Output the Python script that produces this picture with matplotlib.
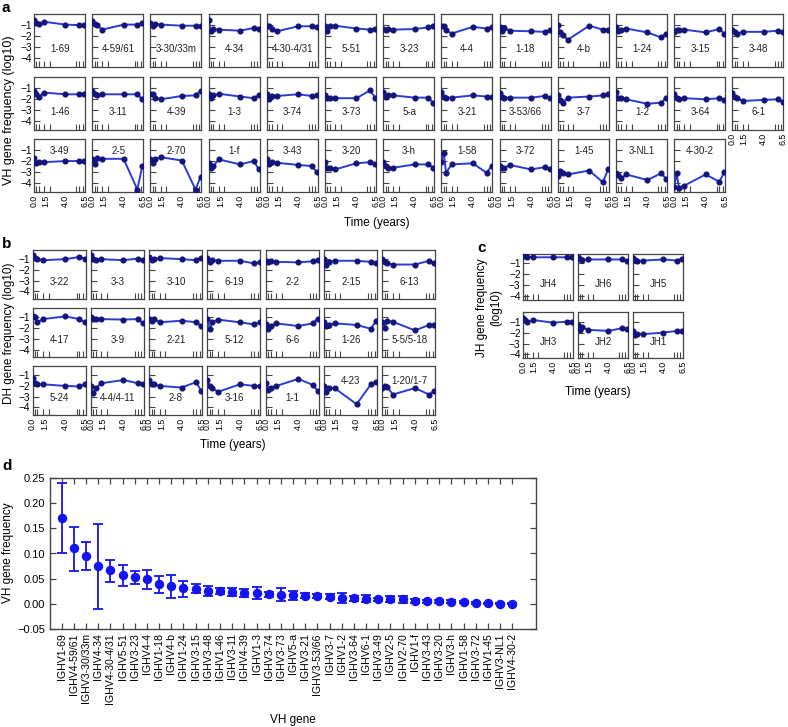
import matplotlib
matplotlib.use("Agg")
import matplotlib.pyplot as plt

plt.rcParams['font.family'] = ['Liberation Sans', 'DejaVu Sans']

W, H = 788, 727

# sampling times (years) and tick marks of the small panels
times = [0.0, 0.3, 0.6, 1.3, 4.0, 5.75, 6.4]
time_ticks = [0.3, 0.6, 1.3, 2.0, 4.0, 5.4, 5.75, 6.2]
time_labels = [0.0, 1.5, 4.0, 6.5]

# panel a: VH genes, log10 frequency per time point
vh_genes = ['1-69', '4-59/61', '3-30/33m', '4-34', '4-30-4/31', '5-51', '3-23',
            '4-4', '1-18', '4-b', '1-24', '3-15', '3-48',
            '1-46', '3-11', '4-39', '1-3', '3-74', '3-73', '5-a', '3-21',
            '3-53/66', '3-7', '1-2', '3-64', '6-1',
            '3-49', '2-5', '2-70', '1-f', '3-43', '3-20', '3-h', '1-58', '3-72',
            '1-45', '3-NL1', '4-30-2']
vh_log_freq = [
    [-0.55, -0.85, -0.95, -0.75, -1.0, -1.05, -1.05],
    [-0.7, -0.95, -1.05, -1.45, -1.0, -1.0, -0.9],
    [-0.85, -1.15, -0.95, -1.0, -1.1, -1.1, -1.15],
    [-0.55, -1.6, -1.4, -1.45, -1.55, -1.3, -1.35],
    [-1.1, -1.15, -1.4, -1.6, -1.15, -1.15, -1.25],
    [-1.1, -1.6, -1.15, -1.1, -1.35, -1.45, -1.35],
    [-1.4, -1.45, -1.4, -1.45, -1.4, -1.25, -1.1],
    [-1.1, -1.15, -1.5, -1.8, -1.2, -1.35, -1.2],
    [-1.2, -1.6, -1.3, -1.55, -1.6, -1.65, -1.5],
    [-1.05, -1.65, -1.95, -2.35, -1.1, -1.45, -1.45],
    [-1.2, -1.55, -1.45, -1.35, -1.7, -2.15, -1.8],
    [-1.7, -1.5, -1.45, -1.45, -1.7, -1.4, -1.8],
    [-1.45, -1.7, -1.8, -1.65, -1.65, -1.55, -1.65],
    [-1.3, -1.6, -1.8, -1.45, -1.6, -1.6, -1.6],
    [-1.3, -1.6, -1.7, -1.6, -1.6, -1.6, -2.05],
    [-1.55, -1.6, -1.9, -2.05, -1.75, -1.7, -1.3],
    [-1.6, -1.95, -1.7, -1.55, -1.8, -1.95, -1.7],
    [-1.6, -2.05, -1.75, -1.75, -1.6, -1.75, -1.7],
    [-1.7, -1.95, -1.95, -1.95, -1.95, -1.25, -1.9],
    [-1.4, -1.8, -1.7, -1.7, -1.9, -1.9, -2.4],
    [-1.4, -1.8, -1.9, -1.9, -1.7, -1.8, -1.8],
    [-1.45, -1.8, -1.9, -1.9, -1.9, -1.75, -1.9],
    [-1.7, -2.1, -2.4, -1.9, -1.8, -1.7, -1.6],
    [-1.4, -1.9, -1.95, -2.05, -2.45, -2.35, -1.9],
    [-1.55, -1.95, -2.05, -1.95, -2.05, -1.95, -2.1],
    [-1.45, -1.8, -1.9, -2.2, -2.1, -2.05, -2.25],
    [-1.75, -2.15, -2.1, -2.1, -2.0, -2.0, -2.0],
    [-1.8, -2.3, -1.75, -1.8, -1.8, -4.55, -2.4],
    [-1.8, -2.15, -1.85, -1.65, -1.95, -4.55, -3.4],
    [-2.15, -2.6, -2.45, -1.85, -2.3, -2.0, -2.75],
    [-1.85, -2.3, -2.1, -2.15, -2.35, -2.45, -3.0],
    [-2.1, -2.6, -2.6, -2.75, -2.2, -2.1, -2.3],
    [-2.1, -2.45, -2.6, -2.6, -2.3, -2.3, -2.6],
    [-2.1, -1.3, -3.05, -2.3, -2.2, -3.05, -2.45],
    [-2.45, -2.6, -2.6, -2.35, -2.75, -2.55, -2.75],
    [-3.35, -2.9, -3.05, -3.2, -2.85, -3.9, -2.75],
    [-3.05, -3.25, -3.55, -3.2, -3.7, -3.1, -3.6],
    [-4.35, -3.05, -4.4, -4.2, -3.2, -3.85, -3.0],
]
vh_label_top = ['3-49', '2-5', '2-70', '1-f', '3-43', '3-20', '3-h', '1-58',
                '3-72', '1-45', '3-NL1', '4-30-2']

# panel b: DH genes
dh_genes = ['3-22', '3-3', '3-10', '6-19', '2-2', '2-15', '6-13',
            '4-17', '3-9', '2-21', '5-12', '6-6', '1-26', '5-5/5-18',
            '5-24', '4-4/4-11', '2-8', '3-16', '1-1', '4-23', '1-20/1-7']
dh_log_freq = [
    [-0.65, -0.85, -1.0, -1.1, -1.0, -0.8, -0.95],
    [-0.65, -1.0, -1.1, -1.0, -1.1, -0.95, -1.1],
    [-0.8, -1.1, -1.0, -0.9, -1.0, -1.1, -0.85],
    [-0.85, -1.25, -1.1, -1.15, -1.15, -1.4, -1.3],
    [-1.15, -1.3, -1.2, -1.25, -1.3, -1.2, -1.1],
    [-0.95, -1.5, -1.25, -1.15, -1.15, -1.25, -1.4],
    [-1.0, -1.25, -1.4, -1.5, -1.5, -1.15, -1.4],
    [-0.85, -1.0, -1.45, -1.15, -0.9, -1.15, -1.45],
    [-1.0, -1.1, -1.1, -1.15, -1.2, -1.15, -1.55],
    [-1.15, -1.3, -1.15, -1.45, -1.3, -1.45, -1.8],
    [-1.15, -2.1, -1.45, -1.2, -1.45, -1.65, -1.45],
    [-1.65, -2.1, -1.8, -1.55, -1.8, -1.55, -1.1],
    [-1.45, -1.8, -1.7, -1.55, -1.7, -2.05, -1.3],
    [-1.4, -1.95, -1.3, -1.4, -2.2, -1.7, -1.7],
    [-1.25, -1.75, -1.85, -1.85, -2.0, -2.05, -1.85],
    [-2.05, -2.7, -2.2, -1.75, -1.45, -1.75, -1.85],
    [-1.45, -1.85, -1.85, -2.0, -2.15, -1.65, -2.45],
    [-1.45, -2.05, -2.2, -2.55, -1.85, -2.0, -2.0],
    [-1.75, -2.4, -2.2, -2.0, -1.35, -1.9, -2.45],
    [-2.05, -2.55, -2.2, -2.2, -3.7, -1.85, -1.6],
    [-2.2, -2.05, -2.1, -2.8, -2.2, -2.8, -2.45],
]
dh_label_top = ['4-23', '1-20/1-7']

# panel c: JH genes
jh_genes = ['JH4', 'JH6', 'JH5', 'JH3', 'JH2', 'JH1']
jh_log_freq = [
    [-0.35, -0.35, -0.4, -0.45, -0.45, -0.45, -0.4],
    [-0.4, -0.65, -0.7, -0.65, -0.65, -0.65, -0.8],
    [-0.55, -0.7, -0.8, -0.75, -0.65, -0.75, -0.6],
    [-0.7, -0.85, -1.0, -0.85, -1.1, -1.0, -1.0],
    [-1.3, -1.75, -1.45, -1.75, -1.85, -1.6, -1.7],
    [-1.9, -2.25, -2.1, -2.15, -2.0, -1.85, -1.85],
]

# panel d: mean VH frequency with error bar limits (same gene order as a)
vh_mean = [0.170, 0.110, 0.095, 0.075, 0.067, 0.057, 0.053, 0.049, 0.039, 0.036,
           0.031, 0.030, 0.026, 0.026, 0.024, 0.021, 0.021, 0.019, 0.018, 0.017,
           0.0165, 0.016, 0.0145, 0.011, 0.011, 0.0105, 0.0092, 0.009, 0.009, 0.006,
           0.0053, 0.005, 0.0046, 0.0033, 0.0026, 0.0007, 0.0003, 0.0002]
vh_upper = [0.241, 0.153, 0.122, 0.158, 0.088, 0.077, 0.065, 0.067, 0.055, 0.057,
            0.046, 0.039, 0.036, 0.031, 0.031, 0.030, 0.033, 0.024, 0.031, 0.026,
            0.022, 0.020, 0.020, 0.021, 0.016, 0.018, 0.012, 0.016, 0.016, 0.009,
            0.008, 0.008, 0.007, 0.006, 0.0046, 0.002, 0.0015, 0.001]
vh_lower = [0.101, 0.065, 0.068, -0.010, 0.044, 0.036, 0.039, 0.029, 0.021, 0.0125,
            0.014, 0.021, 0.016, 0.020, 0.016, 0.013, 0.010, 0.0145, 0.0066, 0.008,
            0.011, 0.012, 0.010, 0.0026, 0.006, 0.003, 0.0066, 0.003, 0.0013, 0.0026,
            0.0026, 0.0026, 0.002, 0.0007, 0.0, -0.0006, -0.0009, -0.0006]

LINE = '#2b3bd8'
DOT = '#14147a'
BLUE = '#1414f0'
EDGE = '#444444'

fig = plt.figure(figsize=(W / 100, H / 100), dpi=100)


def px_axes(x, y, w, h):
    return fig.add_axes([x / W, 1 - (y + h) / H, w / W, h / H])


def ftext(x, y, s, **kw):
    fig.text(x / W, 1 - y / H, s, **kw)


def small_panel(x, y, w, h, gene, vals, ylim, label_y, ylabels, xlabels):
    ax = px_axes(x, y, w, h)
    ax.plot(times, vals, color=LINE, lw=1.4, zorder=2)
    ax.plot(times, vals, 'o', color=DOT, ms=3.4, zorder=3)
    ax.set_xlim(0, 6.5)
    ax.set_ylim(*ylim)
    for s in ax.spines.values():
        s.set_color(EDGE)
        s.set_linewidth(0.9)
    ax.set_yticks([-1, -2, -3, -4])
    ax.tick_params(axis='y', direction='in', length=4, width=0.8, color=EDGE,
                   labelsize=7.3, pad=1.5, labelleft=ylabels)
    ax.set_xticks(time_labels)
    ax.set_xticklabels(['%.1f' % t for t in time_labels])
    ax.set_xticks(time_ticks, minor=True)
    ax.tick_params(axis='x', which='major', length=0, labelsize=6.3,
                   labelrotation=90, pad=2, labelbottom=xlabels)
    ax.tick_params(axis='x', which='minor', direction='in', length=4,
                   width=0.8, color=EDGE)
    ax.text(3.3, label_y, gene, ha='center', va='center', fontsize=7, color='#222222')
    return ax


# ---- panel a ----
for i, (g, v) in enumerate(zip(vh_genes, vh_log_freq)):
    r, c = divmod(i, 13)
    last = r == 2 or (r == 1 and c == 12)
    small_panel(34 + 58.2 * c, [14, 77, 139.3][r], 51, 53, g, v,
                (-4.8, -0.05), -1.1 if g in vh_label_top else -3.2,
                c == 0, last)
ftext(2, 12, 'a', fontsize=11, fontweight='bold')
ftext(9, 110, 'VH gene frequency (log10)', rotation=90, ha='center', va='center', fontsize=9)
ftext(377, 223, 'Time (years)', ha='center', va='center', fontsize=8.5)

# ---- panel b ----
for i, (g, v) in enumerate(zip(dh_genes, dh_log_freq)):
    r, c = divmod(i, 7)
    small_panel(32.5 + 58.3 * c, [250, 308.3, 366][r], 53, 49, g, v,
                (-4.7, -0.15), -1.5 if g in dh_label_top else -3.1,
                c == 0, r == 2)
ftext(2, 248, 'b', fontsize=11, fontweight='bold')
ftext(9, 333, 'DH gene frequency (log10)', rotation=90, ha='center', va='center', fontsize=8.5)
ftext(233, 445, 'Time (years)', ha='center', va='center', fontsize=8.5)

# ---- panel c ----
for i, (g, v) in enumerate(zip(jh_genes, jh_log_freq)):
    r, c = divmod(i, 3)
    small_panel(522.7 + 55 * c, [254, 312.3][r], 50, 46, g, v,
                (-4.35, -0.15), -2.9, c == 0, r == 1)
ftext(477, 252, 'c', fontsize=11, fontweight='bold')
ftext(489, 308, 'JH gene frequency\n(log10)', rotation=90, ha='center', va='center',
      fontsize=8.5, multialignment='center')
ftext(598, 392, 'Time (years)', ha='center', va='center', fontsize=8.5)

# ---- panel d ----
ax = px_axes(50, 478, 486, 151)
xs = list(range(len(vh_mean)))
yerr = [[m - lo for m, lo in zip(vh_mean, vh_lower)],
        [hi - m for m, hi in zip(vh_mean, vh_upper)]]
ax.errorbar(xs, vh_mean, yerr=yerr, fmt='o', color=BLUE, ms=5.8, capsize=3.6,
            elinewidth=1.3, capthick=1.3)
ax.set_xlim(-0.96, len(vh_mean) + 0.95)
ax.set_ylim(-0.05, 0.25)
ax.set_yticks([-0.05, 0.0, 0.05, 0.10, 0.15, 0.20, 0.25])
ax.set_yticklabels(['%.2f' % t if t >= 0 else '\u2212%.2f' % -t
                    for t in [-0.05, 0.0, 0.05, 0.10, 0.15, 0.20, 0.25]])
ax.set_xticks(xs)
ax.set_xticklabels(['IGHV' + g for g in vh_genes], rotation=90, fontsize=7.6)
ax.tick_params(axis='both', direction='in', top=True, right=True, length=4.5,
               width=0.9, color=EDGE)
ax.tick_params(axis='y', labelsize=8)
ax.tick_params(axis='x', pad=3)
for s in ax.spines.values():
    s.set_color(EDGE)
    s.set_linewidth(1.0)
ftext(2, 470, 'd', fontsize=11, fontweight='bold')
ftext(8, 553, 'VH gene frequency', rotation=90, ha='center', va='center', fontsize=8.5)
ftext(293, 720, 'VH gene', ha='center', va='center', fontsize=8.5)

fig.savefig('out.png', dpi=100)
